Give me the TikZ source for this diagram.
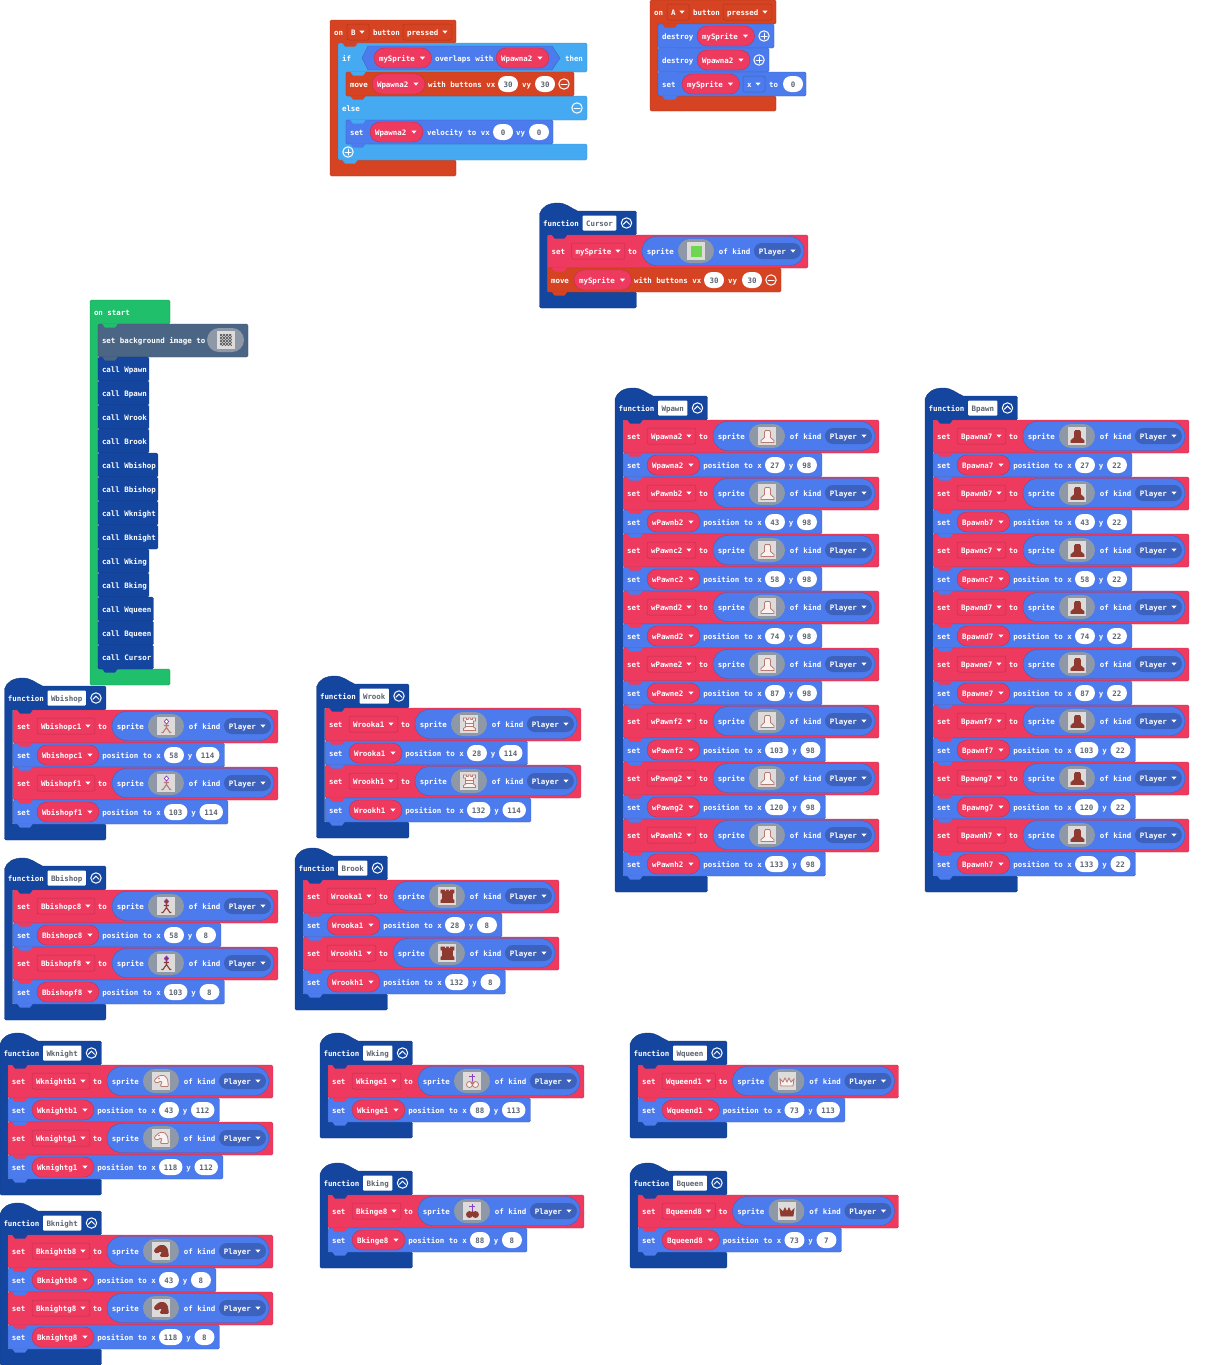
\documentclass[tikz,border=0pt]{standalone}
\usepackage{fontspec}
\setmonofont{DejaVu Sans Mono}
\definecolor{fnb}{HTML}{1446A0}
\definecolor{fnbd}{HTML}{103A85}
\definecolor{spr}{HTML}{4B7BEC}
\definecolor{sprd}{HTML}{3C62BD}
\definecolor{var}{HTML}{EE3A5F}
\definecolor{vard}{HTML}{C52E4E}
\definecolor{ctl}{HTML}{D54322}
\definecolor{ctld}{HTML}{B3361A}
\definecolor{lgc}{HTML}{45AAF2}
\definecolor{lgcd}{HTML}{3A90CE}
\definecolor{grn}{HTML}{20BF6B}
\definecolor{grnd}{HTML}{1A9C57}
\definecolor{scn}{HTML}{4B6584}
\definecolor{scnd}{HTML}{3E546E}
\definecolor{impill}{HTML}{8E98A6}
\definecolor{imbg}{HTML}{DEDCDA}
\definecolor{numtx}{HTML}{5C6470}
\definecolor{pcw}{HTML}{B87A72}
\definecolor{pcb}{HTML}{8E3A30}
\definecolor{pcp}{HTML}{8A3FC0}
\definecolor{curg}{HTML}{6FD650}
\newcommand\lf{\ttfamily\bfseries\fontsize{7.47}{9}\selectfont}
\font\mf="DejaVu Sans Mono/B" at 7.47pt
\newcounter{nn}
\newlength\mylen
\tikzset{
  lbl/.style={anchor=base west,inner sep=0pt,outer sep=0pt,text=white,font=\lf},
  numlbl/.style={anchor=base,inner sep=0pt,outer sep=0pt,text=numtx,font=\lf},
  circic/.style={draw=white,line width=1pt,line cap=round},
  pwhite/.style={fill=white!90!pcw,draw=pcw,line width=.8pt},
  pblack/.style={fill=pcb,draw=pcb,line width=.8pt}
}
% text
\newcommand\txtat[3]{\stepcounter{nn}\node[lbl,name=n\arabic{nn}] at (#1,#2+3.4) {#3};}
% dropdown arrow
\newcommand\arr[2]{\fill[white] (#1-2.6,#2-1.4) -- (#1+2.6,#2-1.4) -- (#1,#2+1.6) -- cycle;}
% statement rectangle: x1,y1,x2,y2,fill,border
\newcommand\stat[6]{\path[fill=#5,draw=#6,line width=.4pt,rounded corners=1.5pt] (#1,#2) rectangle (#3,#4);\gdef\lastcol{#5}}
% notch of the previous block
\newcommand\notch[2]{\fill[\lastcol] (#1+4,#2-.5) -- (#1+7,#2+3.5) -- (#1+17,#2+3.5) -- (#1+20,#2-.5) -- cycle;}
% variable pill
\newcommand\vpill[3]{\settowidth{\mylen}{\mf #3}\pgfmathsetmacro\vw{\mylen}\pgfmathsetmacro\vend{#1+\vw+21.5}%
  \path[fill=var,draw=vard,line width=.4pt,rounded corners=10pt] (#1,#2-10) rectangle (\vend,#2+10);
  \txtat{#1+5}{#2}{#3}\arr{#1+\vw+12.5}{#2}}
% dropdown box
\newcommand\ddbox[5]{\settowidth{\mylen}{\mf #3}\pgfmathsetmacro\dw{\mylen}\pgfmathsetmacro\dend{#1+\dw+17.5}%
  \path[fill=#4,draw=#5,line width=.5pt,rounded corners=2pt] (#1,#2-8) rectangle (\dend,#2+8);
  \txtat{#1+4}{#2}{#3}\arr{#1+\dw+10.5}{#2}}
% number pill
\newcommand\numpill[3]{\settowidth{\mylen}{\mf #3}\pgfmathsetmacro\nw{max(\mylen+10,20)}\pgfmathsetmacro\nend{#1+\nw}%
  \path[fill=white,rounded corners=8pt] (#1,#2-8) rectangle (\nend,#2+8);
  \stepcounter{nn}\node[numlbl,name=n\arabic{nn}] at ({#1+\nw/2},#2+3.4) {#3};}
% icons
\newcommand\plusic[2]{\draw[circic] (#1,#2) circle (5.2pt); \draw[circic] (#1-3,#2) -- (#1+3,#2) (#1,#2-3) -- (#1,#2+3);}
\newcommand\minusic[2]{\draw[circic] (#1,#2) circle (5.2pt); \draw[circic] (#1-3,#2) -- (#1+3,#2);}
\newcommand\upic[2]{\draw[circic] (#1,#2) circle (5.2pt); \draw[circic] (#1-3,#2+1.2) -- (#1,#2-1.8) -- (#1+3,#2+1.2);}
% sprite art, centred at the origin
\newcommand\pawnart[1]{\path[#1] (-6.5,6.5)--(-6.5,4.5)--(-3,1.5)--(-3,-4)--(-2,-5.5)--(2,-5.5)--(3,-4)--(3,1.5)--(6.5,4.5)--(6.5,6.5)--cycle;}
\newcommand\icWP{\pawnart{pwhite}}
\newcommand\icBP{\pawnart{pblack}}
\newcommand\bishopart[2]{\path[fill=#2,draw=pcp,line width=.7pt] (0,-7)--(2.2,-4.5)--(0,-2)--(-2.2,-4.5)--cycle;
  \draw[#1,line width=1.1pt] (0,-2)--(0,1.5) (-2.5,-.5)--(2.5,-.5) (0,1.5)--(-3.5,6.5)--(-5,6.5) (0,1.5)--(3.5,6.5)--(5,6.5);}
\newcommand\icWB{\bishopart{pcw}{white}}
\newcommand\icBB{\bishopart{pcb}{pcb}}
\newcommand\icWR{\path[pwhite] (-6,-6)--(-6,-3)--(-4,-3)--(-4,3)--(-6,4.5)--(-6,6.5)--(6,6.5)--(6,4.5)--(4,3)--(4,-3)--(6,-3)--(6,-6)--(3,-6)--(3,-4.5)--(1.2,-4.5)--(1.2,-6)--(-1.2,-6)--(-1.2,-4.5)--(-3,-4.5)--(-3,-6)--cycle;
  \draw[pcw,line width=.8pt] (-4,-1)--(4,-1) (-4,2)--(4,2);}
\newcommand\icBR{\path[pblack] (-6.5,-6)--(-6.5,-3)--(-5,-3)--(-5,3)--(-6.5,4.5)--(-6.5,6.5)--(6.5,6.5)--(6.5,4.5)--(5,3)--(5,-3)--(6.5,-3)--(6.5,-6)--(3,-6)--(3,-4.5)--(1.2,-4.5)--(1.2,-6)--(-1.2,-6)--(-1.2,-4.5)--(-3,-4.5)--(-3,-6)--cycle;}
\newcommand\knightart[1]{\path[#1,rounded corners=1pt] (-7,-1)--(-5,-3)--(-2,-5.5)--(3,-5.5)--(6,-2)--(7,5.5)--(-1,5.5)--(-1,3.5)--(1,1.5)--(-1,0)--(-4,2)--(-7,1)--cycle;}
\newcommand\icWN{\knightart{pwhite}\fill[pcw] (-2.5,-2.5) circle (.9pt);}
\newcommand\icBN{\knightart{pblack}}
\newcommand\icWK{\draw[pcp,line width=1.2pt] (0,-7)--(0,1) (-3,-4.5)--(3,-4.5);
  \path[pwhite] (-3,3.5) circle (3pt) (3,3.5) circle (3pt) (0,2) circle (1.5pt);}
\newcommand\icBK{\draw[pcp,line width=1.2pt] (0,-7)--(0,1) (-3,-4.5)--(3,-4.5);
  \path[pblack] (-3,3.5) circle (3pt) (3,3.5) circle (3pt) (0,2) circle (1.5pt);}
\newcommand\icWQ{\path[fill=white!90!pcw,draw=pcw,line width=.8pt] (-7,-2)--(-4,1)--(-2,-3)--(0,1)--(2,-3)--(4,1)--(7,-2)--(6,5)--(-6,5)--cycle;}
\newcommand\icBQ{\path[pblack] (-7,-2)--(-4,1)--(-2,-3)--(0,1)--(2,-3)--(4,1)--(7,-2)--(6,5)--(-6,5)--cycle;}
\newcommand\icGR{\fill[curg] (-5.5,-5.5) rectangle (5.5,5.5);}
% function hat + body: x0, yh, name, rows
\newcommand\fnhead[4]{\settowidth{\mylen}{\mf #3}\pgfmathsetmacro\fw{\mylen}%
  \pgfmathsetmacro\fbe{#1+43+\fw+7}\pgfmathsetmacro\fr{\fbe+20}%
  \pgfmathsetmacro\fb{#2+85+57*(#4-1)}%
  \path[fill=fnb,draw=fnbd,line width=.4pt] (#1,#2-9) .. controls (#1+2,#2-16) and (#1+9,#2-20) .. (#1+18,#2-20) .. controls (#1+27,#2-20) and (#1+31,#2-15) .. (#1+38,#2-12) -- (\fr-1.5,#2-12) -- (\fr,#2-10.5) -- (\fr,#2+10.5) -- (\fr-1.5,#2+12) -- (#1+8,#2+12) -- (#1+8,\fb-16) -- (\fr-1.5,\fb-16) -- (\fr,\fb-14.5) -- (\fr,\fb-1.5) -- (\fr-1.5,\fb) -- (#1+1.5,\fb) -- (#1,\fb-1.5) -- cycle;
  \txtat{#1+3.5}{#2}{function}%
  \path[fill=white,rounded corners=1pt] (#1+43,#2-7.5) rectangle (\fbe,#2+7.5);
  \stepcounter{nn}\node[numlbl,anchor=base west,name=n\arabic{nn}] at (#1+46.5,#2+3.4) {#3};
  \upic{\fbe+10}{#2}\gdef\lastcol{fnb}}
% sprite row
\newcommand\spriterow[4]{\settowidth{\mylen}{\mf #3}\pgfmathsetmacro\sw{\mylen}\pgfmathsetmacro\ss{#1+24+\sw+17.5+17}%
  \edef\prevc{\lastcol}%
  \stat{#1}{#2-16}{\ss+166}{#2+17}{var}{vard}%
  \fill[\prevc] (#1+4,#2-16.5) -- (#1+7,#2-12.5) -- (#1+17,#2-12.5) -- (#1+20,#2-16.5) -- cycle;
  \txtat{#1+4}{#2}{set}%
  \ddbox{#1+24}{#2}{#3}{var}{vard}%
  \txtat{#1+24+\sw+17.5+3}{#2}{to}%
  \path[fill=spr,draw=sprd,line width=.4pt,rounded corners=14.5pt] (\ss,#2-14.5) rectangle (\ss+162,#2+14.5);
  \txtat{\ss+5}{#2}{sprite}%
  \path[fill=impill,rounded corners=12pt] (\ss+36,#2-12) rectangle (\ss+72,#2+12);
  \fill[imbg] (\ss+45.5,#2-9) rectangle (\ss+63.5,#2+9);
  \begin{scope}[shift={(\ss+54.5,#2)}]#4\end{scope}
  \txtat{\ss+77}{#2}{of kind}%
  \path[fill=sprd,rounded corners=8pt] (\ss+112,#2-8) rectangle (\ss+159,#2+8);
  \txtat{\ss+117}{#2}{Player}\arr{\ss+151}{#2}}
% position row
\newcommand\posrow[5]{\settowidth{\mylen}{\mf #3}\pgfmathsetmacro\pw{\mylen}\pgfmathsetmacro\pb{#1+24+\pw+21.5}%
  \pgfmathsetmacro\pc{\pb+65}%
  \settowidth{\mylen}{\mf #4}\pgfmathsetmacro\pn{max(\mylen+10,20)}\pgfmathsetmacro\pd{\pc+\pn}\pgfmathsetmacro\pe{\pd+12}%
  \settowidth{\mylen}{\mf #5}\pgfmathsetmacro\pmm{max(\mylen+10,20)}\pgfmathsetmacro\pr{\pe+\pmm+5}%
  \edef\prevc{\lastcol}%
  \stat{#1}{#2-12}{\pr}{#2+12}{spr}{sprd}%
  \fill[\prevc] (#1+4,#2-12.5) -- (#1+7,#2-8.5) -- (#1+17,#2-8.5) -- (#1+20,#2-12.5) -- cycle;
  \txtat{#1+4}{#2}{set}%
  \vpill{#1+24}{#2}{#3}%
  \txtat{\pb+3.5}{#2}{position to x}%
  \numpill{\pc}{#2}{#4}%
  \txtat{\pd+4}{#2}{y}%
  \numpill{\pe}{#2}{#5}}
% one sprite + position pair
\newcommand\piece[7]{\spriterow{#1}{#2}{#3}{#6}\posrow{#1}{#2+29}{#3}{#4}{#5}%
  \ifnum#7=1 \notch{#1}{#2+41}\fi}
% call block
\newcommand\callrow[2]{\settowidth{\mylen}{\mf call #2}\pgfmathsetmacro\cw{\mylen}%
  \edef\prevc{\lastcol}%
  \stat{98}{#1-12}{98+\cw+6}{#1+12}{fnb}{fnbd}%
  \fill[\prevc] (102,#1-12.5) -- (105,#1-8.5) -- (115,#1-8.5) -- (118,#1-12.5) -- cycle;
  \txtat{102}{#1}{call #2}}
\begin{document}
\begin{tikzpicture}[x=1pt,y=-1pt]
\useasboundingbox (0,0) rectangle (1215,1365);
\fill[white] (0,0) rectangle (1215,1365);

% ---------- on B button pressed
\path[fill=ctl,draw=ctld,line width=.4pt,rounded corners=1.5pt] (330,20) -- (456,20) -- (456,43) -- (338,43) -- (338,160) -- (456,160) -- (456,176) -- (330,176) -- cycle;
\gdef\lastcol{ctl}
\txtat{334}{32}{on}
\ddbox{347}{32}{B}{ctl}{ctld}
\txtat{373}{32}{button}
\ddbox{403}{32}{pressed}{ctl}{ctld}
\path[fill=lgc,draw=lgcd,line width=.4pt,rounded corners=1.5pt] (338,43) -- (587,43) -- (587,72) -- (346,72) -- (346,96) -- (587,96) -- (587,120) -- (346,120) -- (346,144) -- (587,144) -- (587,160) -- (338,160) -- cycle;
\fill[ctl] (342,42.5) -- (345,46.5) -- (355,46.5) -- (358,42.5) -- cycle;
\txtat{342}{58}{if}
\path[fill=spr,draw=sprd,line width=.4pt] (362,58) -- (368,46) -- (552,46) -- (560,58) -- (552,70) -- (368,70) -- cycle;
\vpill{374}{58}{mySprite}
\txtat{435}{58}{overlaps with}
\vpill{496}{58}{Wpawna2}
\txtat{565}{58}{then}
\stat{346}{72}{574}{96}{ctl}{ctld}
\fill[lgc] (350,71.5) -- (353,75.5) -- (363,75.5) -- (366,71.5) -- cycle;
\txtat{350}{84}{move}
\vpill{372}{84}{Wpawna2}
\txtat{428}{84}{with buttons vx}
\numpill{498}{84}{30}
\txtat{522}{84}{vy}
\numpill{535}{84}{30}
\minusic{564}{84}
\fill[ctl] (350,95.5) -- (353,99.5) -- (363,99.5) -- (366,95.5) -- cycle;
\txtat{342}{108}{else}
\minusic{577}{108}
\stat{346}{120}{553}{144}{spr}{sprd}
\fill[lgc] (350,119.5) -- (353,123.5) -- (363,123.5) -- (366,119.5) -- cycle;
\txtat{350}{132}{set}
\vpill{370}{132}{Wpawna2}
\txtat{427}{132}{velocity to vx}
\numpill{493}{132}{0}
\txtat{516}{132}{vy}
\numpill{529}{132}{0}
\fill[spr] (350,143.5) -- (353,147.5) -- (363,147.5) -- (366,143.5) -- cycle;
\plusic{348}{152}
\fill[lgc] (342,159.5) -- (345,163.5) -- (355,163.5) -- (358,159.5) -- cycle;

% ---------- on A button pressed
\path[fill=ctl,draw=ctld,line width=.4pt,rounded corners=1.5pt] (650,0) -- (776,0) -- (776,24) -- (658,24) -- (658,96) -- (776,96) -- (776,111) -- (650,111) -- cycle;
\txtat{654}{12}{on}
\ddbox{667}{12}{A}{ctl}{ctld}
\txtat{693}{12}{button}
\ddbox{723}{12}{pressed}{ctl}{ctld}
\stat{658}{24}{774}{48}{spr}{sprd}
\fill[ctl] (662,23.5) -- (665,27.5) -- (675,27.5) -- (678,23.5) -- cycle;
\txtat{662}{36}{destroy}
\vpill{697}{36}{mySprite}
\plusic{764}{36}
\stat{658}{48}{769}{72}{spr}{sprd}
\notch{658}{48}
\txtat{662}{60}{destroy}
\vpill{697}{60}{Wpawna2}
\plusic{759}{60}
\stat{658}{72}{806}{96}{spr}{sprd}
\notch{658}{72}
\txtat{662}{84}{set}
\vpill{682}{84}{mySprite}
\ddbox{743}{84}{x}{spr}{sprd}
\txtat{769}{84}{to}
\numpill{783}{84}{0}
\notch{658}{96}

% ---------- Cursor
\fnhead{539.5}{223}{Cursor}{1}
\spriterow{547.5}{251}{mySprite}{\icGR}
\stat{547.5}{268}{781}{292}{ctl}{ctld}
\fill[var] (551.5,267.5) -- (554.5,271.5) -- (564.5,271.5) -- (567.5,267.5) -- cycle;
\txtat{551}{280}{move}
\vpill{574}{280}{mySprite}
\txtat{634}{280}{with buttons vx}
\numpill{704}{280}{30}
\txtat{728}{280}{vy}
\numpill{742}{280}{30}
\minusic{771}{280}
\notch{547.5}{292}

% ---------- on start
\path[fill=grn,draw=grnd,line width=.4pt,rounded corners=1.5pt] (90,300) -- (170,300) -- (170,324) -- (98,324) -- (98,669) -- (170,669) -- (170,685) -- (90,685) -- cycle;
\gdef\lastcol{grn}
\txtat{94}{312}{on start}
\stat{98}{324}{248}{357}{scn}{scnd}
\fill[grn] (102,323.5) -- (105,327.5) -- (115,327.5) -- (118,323.5) -- cycle;
\txtat{102}{340}{set background image to}
\path[fill=impill,rounded corners=12pt] (207,328) rectangle (244,352);
\fill[imbg] (217,331) rectangle (235,349);
\foreach \i in {0,...,7}{\foreach \j in {0,...,7}{
  \pgfmathparse{int(mod(\i+\j,2))}
  \ifnum\pgfmathresult=0 \fill[black!60] (220+1.5*\i,334+1.5*\j) rectangle (221.5+1.5*\i,335.5+1.5*\j);
  \else \fill[black!25] (220+1.5*\i,334+1.5*\j) rectangle (221.5+1.5*\i,335.5+1.5*\j);\fi}}
\callrow{369}{Wpawn}
\callrow{393}{Bpawn}
\callrow{417}{Wrook}
\callrow{441}{Brook}
\callrow{465}{Wbishop}
\callrow{489}{Bbishop}
\callrow{513}{Wknight}
\callrow{537}{Bknight}
\callrow{561}{Wking}
\callrow{585}{Bking}
\callrow{609}{Wqueen}
\callrow{633}{Bqueen}
\callrow{657}{Cursor}
\notch{98}{669}

% ---------- Wpawn
\fnhead{615}{408}{Wpawn}{8}
\piece{623}{436}{Wpawna2}{27}{98}{\icWP}{0}
\piece{623}{493}{wPawnb2}{43}{98}{\icWP}{0}
\piece{623}{550}{wPawnc2}{58}{98}{\icWP}{0}
\piece{623}{607}{wPawnd2}{74}{98}{\icWP}{0}
\piece{623}{664}{wPawne2}{87}{98}{\icWP}{0}
\piece{623}{721}{wPawnf2}{103}{98}{\icWP}{0}
\piece{623}{778}{wPawng2}{120}{98}{\icWP}{0}
\piece{623}{835}{wPawnh2}{133}{98}{\icWP}{1}

% ---------- Bpawn
\fnhead{925}{408}{Bpawn}{8}
\piece{933}{436}{Bpawna7}{27}{22}{\icBP}{0}
\piece{933}{493}{Bpawnb7}{43}{22}{\icBP}{0}
\piece{933}{550}{Bpawnc7}{58}{22}{\icBP}{0}
\piece{933}{607}{Bpawnd7}{74}{22}{\icBP}{0}
\piece{933}{664}{Bpawne7}{87}{22}{\icBP}{0}
\piece{933}{721}{Bpawnf7}{103}{22}{\icBP}{0}
\piece{933}{778}{Bpawng7}{120}{22}{\icBP}{0}
\piece{933}{835}{Bpawnh7}{133}{22}{\icBP}{1}

% ---------- bishops
\fnhead{4.5}{698}{Wbishop}{2}
\piece{13}{726}{Wbishopc1}{58}{114}{\icWB}{0}
\piece{13}{783}{Wbishopf1}{103}{114}{\icWB}{1}
\fnhead{4.5}{878}{Bbishop}{2}
\piece{13}{906}{Bbishopc8}{58}{8}{\icBB}{0}
\piece{13}{963}{Bbishopf8}{103}{8}{\icBB}{1}

% ---------- rooks
\fnhead{316.5}{696}{Wrook}{2}
\piece{325}{724}{Wrooka1}{28}{114}{\icWR}{0}
\piece{325}{781}{Wrookh1}{132}{114}{\icWR}{1}
\fnhead{295}{868}{Brook}{2}
\piece{303}{896}{Wrooka1}{28}{8}{\icBR}{0}
\piece{303}{953}{Wrookh1}{132}{8}{\icBR}{1}

% ---------- knights
\fnhead{0}{1053}{Wknight}{2}
\piece{8}{1081}{Wknightb1}{43}{112}{\icWN}{0}
\piece{8}{1138}{Wknightg1}{118}{112}{\icWN}{1}
\fnhead{0}{1223}{Bknight}{2}
\piece{8}{1251}{Bknightb8}{43}{8}{\icBN}{0}
\piece{8}{1308}{Bknightg8}{118}{8}{\icBN}{1}

% ---------- kings
\fnhead{320}{1053}{Wking}{1}
\piece{328}{1081}{Wkinge1}{88}{113}{\icWK}{1}
\fnhead{320}{1183}{Bking}{1}
\piece{328}{1211}{Bkinge8}{88}{8}{\icBK}{1}

% ---------- queens
\fnhead{630}{1053}{Wqueen}{1}
\piece{638}{1081}{Wqueend1}{73}{113}{\icWQ}{1}
\fnhead{630}{1183}{Bqueen}{1}
\piece{638}{1211}{Bqueend8}{73}{7}{\icBQ}{1}
\end{tikzpicture}
\end{document}
